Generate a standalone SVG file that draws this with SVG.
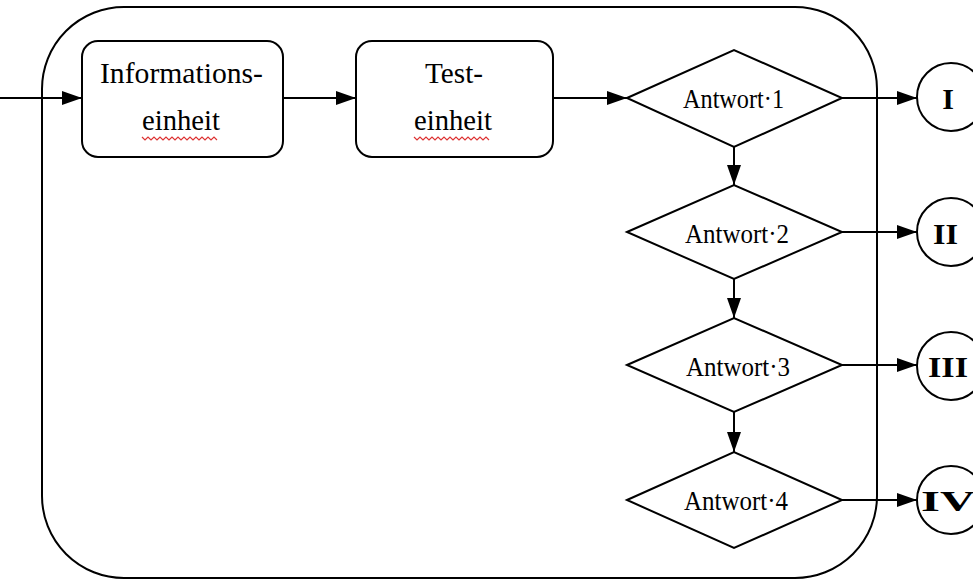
<svg xmlns="http://www.w3.org/2000/svg" width="973" height="580" viewBox="0 0 973 580">
<style>
.shape{fill:none;stroke:#000;stroke-width:2}
.box{fill:#fff;stroke:#000;stroke-width:2}
.line{fill:none;stroke:#000;stroke-width:2}
.t{font-family:"Liberation Serif","Times New Roman",serif;font-size:30px;fill:#000}
.a{font-family:"Liberation Serif","Times New Roman",serif;font-size:27px;fill:#000}
.r{font-family:"Liberation Serif","Times New Roman",serif;font-size:30px;font-weight:bold;fill:#000}
.wave{fill:none;stroke:#d33;stroke-width:1.2}
</style>
<defs>
<marker id="ah" viewBox="0 0 20 14" refX="20" refY="7" markerWidth="20" markerHeight="14" markerUnits="userSpaceOnUse" orient="auto">
<path d="M0,0 L20,7 L0,14 Z" fill="#000"/>
</marker>
</defs>
<rect width="973" height="580" fill="#fff"/>
<g id="frame">
<rect class="shape" x="42" y="7" width="835" height="571" rx="82" ry="82"/>
</g>
<g id="connectors">
<line class="line" x1="0" y1="98" x2="82" y2="98" marker-end="url(#ah)"/>
<line class="line" x1="283" y1="98" x2="356" y2="98" marker-end="url(#ah)"/>
<line class="line" x1="553" y1="98" x2="627" y2="98" marker-end="url(#ah)"/>
<line class="line" x1="734" y1="147" x2="734" y2="185" marker-end="url(#ah)"/>
<line class="line" x1="734" y1="279" x2="734" y2="318" marker-end="url(#ah)"/>
<line class="line" x1="734" y1="412" x2="734" y2="452" marker-end="url(#ah)"/>
<line class="line" x1="842" y1="98" x2="917" y2="98" marker-end="url(#ah)"/>
<line class="line" x1="842" y1="232" x2="917" y2="232" marker-end="url(#ah)"/>
<line class="line" x1="842" y1="365" x2="917" y2="365" marker-end="url(#ah)"/>
<line class="line" x1="842" y1="500" x2="917" y2="500" marker-end="url(#ah)"/>
</g>
<g id="informationseinheit">
<rect class="box" x="82" y="41" width="201" height="116" rx="16" ry="16"/>
<text class="t" x="100" y="83" textLength="163" lengthAdjust="spacingAndGlyphs">Informations-</text>
<text class="t" x="142" y="130" textLength="78" lengthAdjust="spacingAndGlyphs">einheit</text>
<path class="wave" d="M142,137 l3,3 l3,-3 l3,3 l3,-3 l3,3 l3,-3 l3,3 l3,-3 l3,3 l3,-3 l3,3 l3,-3 l3,3 l3,-3 l3,3 l3,-3 l3,3 l3,-3 l3,3 l3,-3 l3,3 l3,-3 l3,3 l3,-3 l3,3"/>
</g>
<g id="testeinheit">
<rect class="box" x="356" y="41" width="197" height="116" rx="16" ry="16"/>
<text class="t" x="425" y="83" textLength="58" lengthAdjust="spacingAndGlyphs">Test-</text>
<text class="t" x="414" y="130" textLength="78" lengthAdjust="spacingAndGlyphs">einheit</text>
<path class="wave" d="M414,137 l3,3 l3,-3 l3,3 l3,-3 l3,3 l3,-3 l3,3 l3,-3 l3,3 l3,-3 l3,3 l3,-3 l3,3 l3,-3 l3,3 l3,-3 l3,3 l3,-3 l3,3 l3,-3 l3,3 l3,-3 l3,3 l3,-3 l3,3"/>
</g>
<g id="antwort1">
<polygon class="box" points="627,98 734,50 842,98 734,147"/>
<text class="a" x="683" y="108" textLength="101" lengthAdjust="spacingAndGlyphs">Antwort·1</text>
</g>
<g id="antwort2">
<polygon class="box" points="627,232 734,185 842,232 734,279"/>
<text class="a" x="685" y="243" textLength="104" lengthAdjust="spacingAndGlyphs">Antwort·2</text>
</g>
<g id="antwort3">
<polygon class="box" points="627,365 734,318 842,365 734,412"/>
<text class="a" x="686" y="376" textLength="104" lengthAdjust="spacingAndGlyphs">Antwort·3</text>
</g>
<g id="antwort4">
<polygon class="box" points="627,500 734,452 842,500 734,548"/>
<text class="a" x="684" y="510" textLength="104" lengthAdjust="spacingAndGlyphs">Antwort·4</text>
</g>
<g id="ergebnis1">
<circle class="box" cx="951" cy="97" r="34"/>
<text class="r" x="948" y="109" text-anchor="middle">I</text>
</g>
<g id="ergebnis2">
<circle class="box" cx="951" cy="232" r="34"/>
<text class="r" x="933" y="244" textLength="25" lengthAdjust="spacingAndGlyphs">II</text>
</g>
<g id="ergebnis3">
<circle class="box" cx="951" cy="366" r="34"/>
<text class="r" x="928" y="377" textLength="40" lengthAdjust="spacingAndGlyphs">III</text>
</g>
<g id="ergebnis4">
<circle class="box" cx="951" cy="500" r="34"/>
<text class="r" x="921" y="511" textLength="54" lengthAdjust="spacingAndGlyphs">IV</text>
</g>
</svg>
